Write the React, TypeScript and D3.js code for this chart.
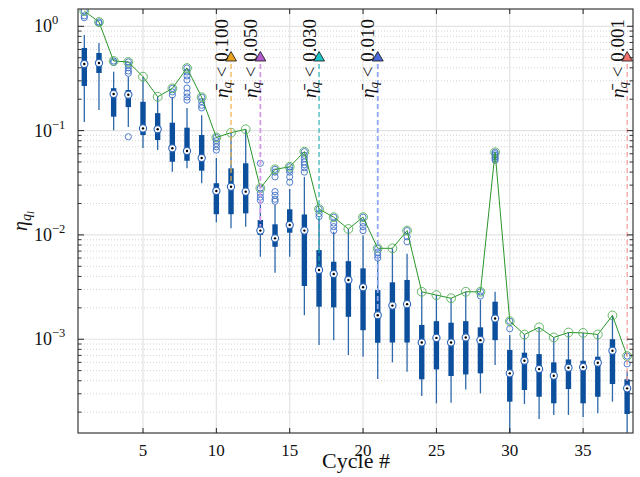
import React from 'react';
import * as d3 from 'd3';

// convergence per cycle: box stats, extra points and the peak trace
const cycles = [1, 2, 3, 4, 5, 6, 7, 8, 9, 10, 11, 12, 13, 14, 15, 16, 17, 18, 19, 20,
  21, 22, 23, 24, 25, 26, 27, 28, 29, 30, 31, 32, 33, 34, 35, 36, 37, 38];

const whiskerLow = [0.121, 0.158, 0.101, 0.108, 0.068, 0.065, 0.0404, 0.0435, 0.0313, 0.0132,
  0.0116, 0.012, 0.00618, 0.00434, 0.00618, 0.0017, 0.00088, 0.00098, 0.000706, 0.00068,
  0.000415, 0.0006, 0.000488, 0.000285, 0.000243, 0.000246, 0.00033, 0.000303, 0.000566, 0.000125,
  0.000239, 0.000172, 0.000188, 0.000188, 0.00018, 0.000195, 0.000252, 0.00012];

const quart1 = [0.268, 0.357, 0.136, 0.168, 0.0907, 0.0813, 0.0503, 0.0514, 0.0413, 0.0158,
  0.0158, 0.0161, 0.01, 0.0077, 0.0105, 0.00324, 0.00205, 0.00202, 0.00164, 0.00122,
  0.000925, 0.00093, 0.00093, 0.000413, 0.000514, 0.000444, 0.00046, 0.000471, 0.00098, 0.000252,
  0.000326, 0.000281, 0.000243, 0.000333, 0.000243, 0.000281, 0.000372, 0.000192];

const medians = [0.435, 0.445, 0.224, 0.221, 0.105, 0.103, 0.0677, 0.0637, 0.0546, 0.0264,
  0.029, 0.026, 0.011, 0.00927, 0.01245, 0.011, 0.00461, 0.00422, 0.0037, 0.00315,
  0.0017, 0.0021, 0.00217, 0.00093, 0.00103, 0.00093, 0.00104, 0.00098, 0.00158, 0.000471,
  0.000622, 0.000517, 0.000447, 0.000533, 0.00054, 0.000595, 0.000776, 0.000338];

const quart3 = [0.62, 0.555, 0.255, 0.245, 0.189, 0.147, 0.119, 0.1066, 0.0907, 0.0313,
  0.0435, 0.0486, 0.0139, 0.01264, 0.0176, 0.0157, 0.00716, 0.00553, 0.0056, 0.00478,
  0.00296, 0.00351, 0.0037, 0.00137, 0.00149, 0.00144, 0.00149, 0.0013, 0.00229, 0.00079,
  0.000743, 0.00072, 0.0006, 0.00064, 0.000622, 0.00068, 0.001, 0.000413];

const whiskerHigh = [0.826, 0.69, 0.367, 0.327, 0.329, 0.211, 0.21, 0.165, 0.14, 0.0546,
  0.0955, 0.103, 0.0216, 0.0194, 0.0275, 0.036, 0.0143, 0.0107, 0.0114, 0.0099,
  0.006, 0.00744, 0.0066, 0.00285, 0.00265, 0.00247, 0.00285, 0.0024, 0.00285, 0.0011,
  0.00111, 0.0013, 0.00104, 0.00116, 0.00115, 0.00111, 0.00169, 0.0005];

const peakValues = [1.40, 1.10, 0.465, 0.455, 0.329, 0.211, 0.254, 0.398, 0.209, 0.086,
  0.0955, 0.103, 0.028, 0.0425, 0.045, 0.0628, 0.0177, 0.0148, 0.0114, 0.0148,
  0.00744, 0.00744, 0.011, 0.00285, 0.00265, 0.00247, 0.00285, 0.00285, 0.062, 0.00149,
  0.00111, 0.0013, 0.00104, 0.00116, 0.00115, 0.00111, 0.00169, 0.00069];

const outliers = [
  [1.40, 1.26, 1.21], [1.10, 1.07], [0.465, 0.45], [0.455, 0.426, 0.401, 0.373, 0.354, 0.0874],
  [], [], [0.254, 0.235, 0.22], [0.398, 0.365, 0.334, 0.306, 0.256, 0.229, 0.21, 0.196],
  [0.209, 0.19, 0.175, 0.165], [0.086, 0.08, 0.075, 0.07, 0.065], [], [],
  [0.0486, 0.028, 0.025, 0.023, 0.0215], [0.0425, 0.04, 0.036, 0.026, 0.024, 0.022, 0.021],
  [0.045, 0.042, 0.04, 0.036, 0.032], [0.0628, 0.058, 0.054, 0.05, 0.047, 0.044, 0.04],
  [0.0177, 0.016, 0.015], [0.0148, 0.013, 0.012, 0.011], [], [0.0148, 0.013, 0.012, 0.011],
  [0.00744, 0.0068, 0.0064, 0.006], [], [0.011, 0.0096, 0.0086], [], [], [], [],
  [0.00285, 0.0026], [0.062, 0.06, 0.058, 0.056, 0.054, 0.052], [0.00149, 0.00126],
  [], [], [], [], [], [], [], [0.00069, 0.00058],
];

const thresholdCycles = [11, 13, 17, 21, 38];
const thresholdLabels = ['0.100', '0.050', '0.030', '0.010', '0.001'];
const thresholdFill = ['#e8a21e', '#b35cd0', '#1cc4c4', '#4a68d8', '#f0706a'];
const thresholdLine = ['#eeb040', '#d49ae6', '#1aacac', '#90a8f0', '#f49c9c'];
const thresholdWidth = [1.2, 1.8, 1.1, 1.8, 1.2];

const xTicks = [5, 10, 15, 20, 25, 30, 35];
const yDecades = [1, 0.1, 0.01, 0.001];
const yExponents = ['0', '\u22121', '\u22122', '\u22123'];

const W = 640;
const H = 477;
const M = {left: 78, right: 633, top: 9, bottom: 433};
const FONT = '"Liberation Serif", "DejaVu Serif", serif';

const App = () => {
  const x = d3.scaleLinear().domain([0.57, 38.4]).range([M.left, M.right]);
  const y = d3.scaleLog().domain([1.262e-4, 1.465]).range([M.bottom, M.top]);

  const minorY = y.ticks().filter(v => !yDecades.some(d => Math.abs(v / d - 1) < 1e-6));

  const peakLine = d3.line<number>()
    .x((_, i) => x(cycles[i]))
    .y(d => y(d));

  const boxBlue = '#0b4f9d';
  const ringBlue = '#2a63b8';

  return (
    <svg width={W} height={H} style={{position: 'absolute', left: 0, top: 0, background: '#fff'}}
         fontFamily={FONT}>
      <defs>
        <clipPath id="plot">
          <rect x={M.left} y={M.top} width={M.right - M.left} height={M.bottom - M.top}/>
        </clipPath>
      </defs>

      {/* grid */}
      <g>
        {minorY.map(v => (
          <line key={'mg' + v} x1={M.left} x2={M.right} y1={y(v)} y2={y(v)}
                stroke="#c8c8c8" strokeWidth={0.8} strokeDasharray="1,2"/>
        ))}
        {yDecades.map(v => (
          <line key={'g' + v} x1={M.left} x2={M.right} y1={y(v)} y2={y(v)}
                stroke="#e3e3e3" strokeWidth={1.2}/>
        ))}
        {xTicks.map(t => (
          <line key={'gx' + t} x1={x(t)} x2={x(t)} y1={M.top} y2={M.bottom}
                stroke="#e3e3e3" strokeWidth={1.2}/>
        ))}
      </g>

      <g clipPath="url(#plot)">
        {/* whiskers and boxes */}
        {cycles.map((c, i) => (
          <g key={'b' + c}>
            <line x1={x(c)} x2={x(c)} y1={y(whiskerLow[i])} y2={y(whiskerHigh[i])}
                  stroke={boxBlue} strokeWidth={1.3} opacity={0.85}/>
            <rect x={x(c) - 2.7} width={5.4} y={y(quart3[i])}
                  height={y(quart1[i]) - y(quart3[i])} fill={boxBlue}/>
          </g>
        ))}

        {/* extra points */}
        {cycles.map((c, i) => outliers[i].map((v, j) => (
          <circle key={'o' + c + '-' + j} cx={x(c)} cy={y(v)} r={3.1}
                  fill="none" stroke="#3d6fc6" strokeWidth={0.9}/>
        )))}

        {/* peak trace */}
        <path d={peakLine(peakValues) || ''} fill="none" stroke="#2a952a" strokeWidth={1}/>
        {cycles.map((c, i) => (
          <circle key={'p' + c} cx={x(c)} cy={y(peakValues[i])} r={4.4}
                  fill="none" stroke="#55b055" strokeWidth={0.9}/>
        ))}

        {/* threshold markers */}
        {thresholdCycles.map((c, k) => (
          <line key={'t' + c} x1={x(c)} x2={x(c)} y1={56} y2={y(medians[c - 1])}
                stroke={thresholdLine[k]} strokeWidth={thresholdWidth[k]} strokeDasharray="5,3"/>
        ))}

        {/* medians */}
        {cycles.map((c, i) => (
          <g key={'m' + c}>
            <circle cx={x(c)} cy={y(medians[i])} r={3.6} fill="#fff" stroke={ringBlue} strokeWidth={1.1}/>
            <circle cx={x(c)} cy={y(medians[i])} r={1.2} fill="#000"/>
          </g>
        ))}
      </g>

      {thresholdCycles.map((c, k) => {
        const cx = x(c);
        const cy = 56.5;
        return (
          <g key={'tm' + c}>
            <path d={`M${cx - 5.5},${cy + 4.5}L${cx + 5.5},${cy + 4.5}L${cx},${cy - 5}Z`}
                  fill={thresholdFill[k]} stroke="#111" strokeWidth={0.8}/>
            <text transform={`translate(${cx - 3.5},19) rotate(-90)`} textAnchor="end"
                  fontSize={19} fill="#111">
              <tspan fontStyle="italic">{'\u03b7\u0304'}</tspan>
              <tspan fontStyle="italic" fontSize={13} dy={3.5}>q</tspan>
              <tspan dy={-3.5}>{' < ' + thresholdLabels[k]}</tspan>
            </text>
          </g>
        );
      })}

      {/* axes frame */}
      <rect x={M.left} y={M.top} width={M.right - M.left} height={M.bottom - M.top}
            fill="none" stroke="#3a3a3a" strokeWidth={1.2}/>
      {xTicks.map(t => (
        <g key={'xt' + t}>
          <line x1={x(t)} x2={x(t)} y1={M.bottom} y2={M.bottom - 5} stroke="#222" strokeWidth={1}/>
          <line x1={x(t)} x2={x(t)} y1={M.top} y2={M.top + 5} stroke="#222" strokeWidth={1}/>
          <text x={x(t)} y={456} textAnchor="middle" fontSize={17} fill="#111">{t}</text>
        </g>
      ))}
      {minorY.map(v => (
        <g key={'ymt' + v}>
          <line x1={M.left} x2={M.left + 3.5} y1={y(v)} y2={y(v)} stroke="#222" strokeWidth={0.9}/>
          <line x1={M.right} x2={M.right - 3.5} y1={y(v)} y2={y(v)} stroke="#222" strokeWidth={0.9}/>
        </g>
      ))}
      {yDecades.map((v, k) => (
        <g key={'yt' + v}>
          <line x1={M.left} x2={M.left + 6} y1={y(v)} y2={y(v)} stroke="#222" strokeWidth={1}/>
          <line x1={M.right} x2={M.right - 6} y1={y(v)} y2={y(v)} stroke="#222" strokeWidth={1}/>
          <text x={34} y={y(v) + 6} fontSize={18} fill="#111">
            10<tspan fontSize={12.5} dy={-8}>{yExponents[k]}</tspan>
          </text>
        </g>
      ))}

      {/* axis titles */}
      <text x={356} y={468} textAnchor="middle" fontSize={22} fill="#111">Cycle #</text>
      <text transform="translate(27,231) rotate(-90)" fontSize={20} fill="#111">
        <tspan fontStyle="italic">{'\u03b7'}</tspan>
        <tspan fontStyle="italic" fontSize={14} dy={4}>q</tspan>
        <tspan fontStyle="italic" fontSize={10} dy={3}>l</tspan>
      </text>
    </svg>
  );
};

export default App;
